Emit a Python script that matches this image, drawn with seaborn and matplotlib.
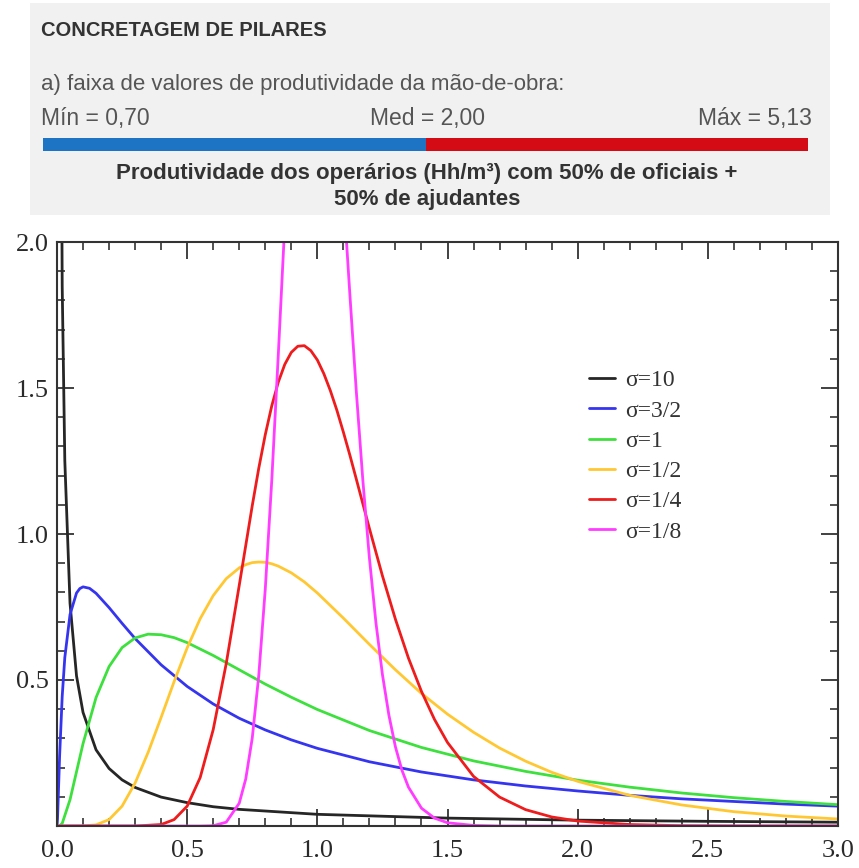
import matplotlib
matplotlib.use('Agg')
import matplotlib.pyplot as plt
from matplotlib.ticker import MultipleLocator
import seaborn as sns

# header data
header_title = 'CONCRETAGEM DE PILARES'
header_sub = 'a) faixa de valores de produtividade da mão-de-obra:'
range_labels = ['Mín = 0,70', 'Med = 2,00', 'Máx = 5,13']
range_segments = [1, 1]
range_colors = ['#1e74c4', '#d40a14']
caption_lines = ['Produtividade dos operários (Hh/m³) com 50% de oficiais +', '50% de ajudantes']

# curves
x_s10 = [0.002, 0.005, 0.01, 0.02, 0.03, 0.05, 0.075, 0.1, 0.15, 0.2, 0.25, 0.3, 0.4, 0.5,
         0.6, 0.7, 1.0, 1.5, 2.0, 2.5, 3.0]
y_s10 = [16.44, 6.93, 3.588, 1.848, 1.251, 0.763, 0.514, 0.389, 0.261, 0.197, 0.158, 0.132,
         0.099, 0.080, 0.066, 0.057, 0.040, 0.027, 0.020, 0.016, 0.013]

x_s32 = [0, 0.002, 0.005, 0.01, 0.02, 0.03, 0.05, 0.075, 0.0875, 0.1, 0.125, 0.15, 0.2, 0.25,
         0.3, 0.4, 0.5, 0.6, 0.7, 0.8, 0.9, 1.0, 1.2, 1.4, 1.6, 1.8, 2.0, 2.2, 2.4, 2.6, 2.8, 3.0]
y_s32 = [0, 0.025, 0.104, 0.239, 0.444, 0.577, 0.724, 0.798, 0.813, 0.819, 0.814, 0.797, 0.748,
         0.694, 0.642, 0.552, 0.478, 0.418, 0.369, 0.329, 0.295, 0.266, 0.220, 0.185, 0.158,
         0.137, 0.120, 0.105, 0.093, 0.084, 0.075, 0.068]

x_s1 = [0, 0.01, 0.02, 0.05, 0.075, 0.1, 0.15, 0.2, 0.25, 0.3, 0.35, 0.4, 0.45, 0.5, 0.6, 0.7,
        0.8, 0.9, 1.0, 1.2, 1.4, 1.6, 1.8, 2.0, 2.2, 2.4, 2.6, 2.8, 3.0]
y_s1 = [0, 0.001, 0.009, 0.090, 0.186, 0.282, 0.440, 0.546, 0.611, 0.644, 0.657, 0.655, 0.645,
        0.628, 0.584, 0.535, 0.486, 0.441, 0.399, 0.327, 0.269, 0.223, 0.187, 0.157, 0.133,
        0.113, 0.097, 0.084, 0.073]

x_s12 = [0, 0.1, 0.15, 0.2, 0.25, 0.3, 0.35, 0.4, 0.45, 0.5, 0.55, 0.6, 0.65, 0.7, 0.725, 0.75,
         0.775, 0.8, 0.825, 0.85, 0.9, 0.95, 1.0, 1.1, 1.2, 1.3, 1.4, 1.5, 1.6, 1.7, 1.8, 1.9,
         2.0, 2.2, 2.4, 2.6, 2.8, 3.0]
y_s12 = [0, 0.0002, 0.004, 0.022, 0.068, 0.147, 0.252, 0.372, 0.495, 0.610, 0.710, 0.789, 0.847,
         0.884, 0.895, 0.902, 0.904, 0.903, 0.898, 0.890, 0.867, 0.836, 0.798, 0.712, 0.622,
         0.535, 0.454, 0.383, 0.321, 0.267, 0.222, 0.184, 0.153, 0.105, 0.072, 0.049, 0.034,
         0.024]

x_s14 = [0, 0.3, 0.4, 0.45, 0.5, 0.55, 0.6, 0.65, 0.7, 0.75, 0.775, 0.8, 0.825, 0.85, 0.875,
         0.9, 0.925, 0.95, 0.975, 1.0, 1.025, 1.05, 1.075, 1.1, 1.125, 1.15, 1.2, 1.25, 1.3,
         1.35, 1.4, 1.45, 1.5, 1.6, 1.7, 1.8, 1.9, 2.0, 2.2, 2.4, 2.6, 3.0]
y_s14 = [0, 0.0, 0.005, 0.022, 0.068, 0.166, 0.330, 0.556, 0.824, 1.097, 1.225, 1.340, 1.439,
         1.520, 1.581, 1.622, 1.643, 1.645, 1.628, 1.596, 1.549, 1.491, 1.424, 1.349, 1.270,
         1.187, 1.019, 0.857, 0.708, 0.575, 0.461, 0.365, 0.286, 0.170, 0.099, 0.056, 0.031,
         0.017, 0.005, 0.001, 0.0, 0.0]

x_s18 = [0, 0.55, 0.6, 0.65, 0.7, 0.725, 0.75, 0.775, 0.8, 0.825, 0.85, 0.875, 0.9, 0.925,
         0.95, 0.975, 1.0, 1.025, 1.05, 1.075, 1.1, 1.125, 1.15, 1.175, 1.2, 1.225, 1.25,
         1.275, 1.3, 1.325, 1.35, 1.4, 1.45, 1.5, 1.6, 1.7, 3.0]
y_s18 = [0, 0.0, 0.001, 0.013, 0.078, 0.161, 0.301, 0.515, 0.811, 1.184, 1.613, 2.062, 2.485,
         2.841, 3.088, 3.207, 3.192, 3.054, 2.817, 2.511, 2.170, 1.820, 1.485, 1.182, 0.918,
         0.697, 0.519, 0.379, 0.271, 0.191, 0.133, 0.061, 0.027, 0.011, 0.002, 0.0, 0.0]

curve_labels = ['σ=10', 'σ=3/2', 'σ=1', 'σ=1/2', 'σ=1/4', 'σ=1/8']
curve_x = [x_s10, x_s32, x_s1, x_s12, x_s14, x_s18]
curve_y = [y_s10, y_s32, y_s1, y_s12, y_s14, y_s18]
curve_colors = ['#262626', '#3535f0', '#3ee03e', '#ffc832', '#ee1c1c', '#ff3cff']

sns.set_style('ticks')
plt.rcParams['font.family'] = ['Liberation Serif', 'DejaVu Serif']

fig = plt.figure(figsize=(8.59, 8.68), dpi=100)

# ---- header panel (pixel-like coordinates) ----
hx0, hx1, hy0, hy1 = 30, 830, 3, 215
hax = fig.add_axes([hx0 / 859, 1 - hy1 / 868, (hx1 - hx0) / 859, (hy1 - hy0) / 868])
hax.set_xlim(hx0, hx1)
hax.set_ylim(hy1, hy0)
hax.set_facecolor('#f1f1f1')
for s in hax.spines.values():
    s.set_visible(False)
hax.set_xticks([])
hax.set_yticks([])

sans = ['Liberation Sans', 'DejaVu Sans']
hax.text(41, 30, header_title, fontsize=14.5, fontweight='bold', color='#333333',
         family=sans, va='center', ha='left')
hax.text(41, 84, header_sub, fontsize=16, color='#555555', family=sans, va='center', ha='left')
bar_left, bar_right = 43, 808
hax.text(41, 118, range_labels[0], fontsize=16.5, color='#555555', family=sans, va='center', ha='left')
hax.text((bar_left + bar_right) / 2 + 2, 118, range_labels[1], fontsize=16.5, color='#555555',
         family=sans, va='center', ha='center')
hax.text(812, 118, range_labels[2], fontsize=16.5, color='#555555', family=sans, va='center', ha='right')
total = sum(range_segments)
left = bar_left
for seg, col in zip(range_segments, range_colors):
    w = seg / total * (bar_right - bar_left)
    hax.barh(144, w, left=left, height=13, color=col, edgecolor='none')
    left += w
for i, line in enumerate(caption_lines):
    hax.text(427, 173 + 26 * i, line, fontsize=16, fontweight='bold', color='#333333', family=sans,
             va='center', ha='center')

# ---- main chart ----
ax = fig.add_axes([57 / 859, 1 - 826 / 868, 781 / 859, 584 / 868])
for xs, ys, lab, col in zip(curve_x, curve_y, curve_labels, curve_colors):
    sns.lineplot(x=xs, y=ys, ax=ax, color=col, label=lab, linewidth=2.0, sort=False)

ax.set_xlim(0, 3.0)
ax.set_ylim(0, 2.0)
ax.set_xticks([0.0, 0.5, 1.0, 1.5, 2.0, 2.5, 3.0])
ax.set_xticklabels(['0.0', '0.5', '1.0', '1.5', '2.0', '2.5', '3.0'])
ax.set_yticks([0.5, 1.0, 1.5, 2.0])
ax.set_yticklabels(['0.5', '1.0', '1.5', '2.0'])
ax.xaxis.set_minor_locator(MultipleLocator(0.1))
ax.yaxis.set_minor_locator(MultipleLocator(0.1))
ax.tick_params(which='major', direction='in', top=True, right=True, length=12, width=1.3,
               color='#333333', labelsize=19, labelcolor='#2a2a2a')
ax.tick_params(which='minor', direction='in', top=True, right=True, length=6, width=1.2,
               color='#333333')
ax.tick_params(axis='x', pad=10)
ax.tick_params(axis='y', pad=6)
for s in ax.spines.values():
    s.set_color('#333333')
    s.set_linewidth(1.5)
ax.set_xlabel('')
ax.set_ylabel('')

leg = ax.legend(loc='upper left', bbox_to_anchor=(0.681, 0.781), frameon=False, fontsize=17,
                handlelength=1.1, handletextpad=0.45, labelspacing=0.37, borderaxespad=0,
                borderpad=0)
for t in leg.get_texts():
    t.set_color('#333333')

fig.savefig('out.png', dpi=100)
